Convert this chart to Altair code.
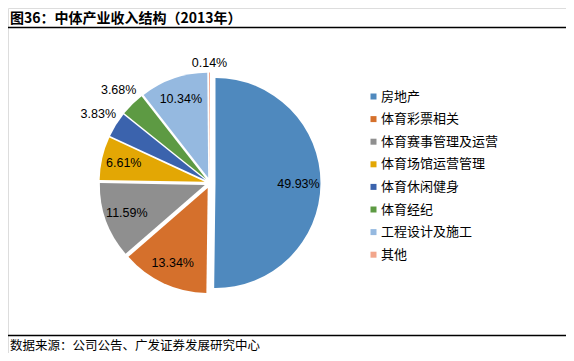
import altair as alt
import pandas as pd

title_text = "图36：中体产业收入结构（2013年）"
source_text = "数据来源：公司公告、广发证券发展研究中心"
categories = ["房地产", "体育彩票相关", "体育赛事管理及运营", "体育场馆运营管理",
              "体育休闲健身", "体育经纪", "工程设计及施工", "其他"]
values = [49.93, 13.34, 11.59, 6.61, 3.83, 3.68, 10.34, 0.14]
colors = ["#4F89BE", "#D5702C", "#8F8F8F", "#E3A704", "#3B63AD",
          "#5D9A43", "#95B9E0", "#F2A68C"]

df = pd.DataFrame({"c": categories, "v": values, "i": list(range(len(values)))})

base = alt.Chart(df).transform_joinaggregate(
    total="sum(v)"
).transform_window(
    cum="sum(v)", sort=[alt.SortField("i")], frame=[None, 0]
).transform_calculate(
    a1="2*PI*datum.cum/datum.total",
    a0="2*PI*(datum.cum-datum.v)/datum.total",
).transform_calculate(
    mid="(datum.a0+datum.a1)/2",
).transform_calculate(
    cx="202+5.5*sin(datum.mid)",
    cy="175-5.5*cos(datum.mid)",
    lr="datum.v<5 ? 107+18*abs(sin(datum.mid))+7*abs(cos(datum.mid)) : 83",
    label="format(datum.v,'.2f')+'%'",
)

arcs = base.mark_arc(radius=105).encode(
    theta=alt.Theta("a0:Q", scale=None),
    theta2="a1:Q",
    x=alt.X("cx:Q", scale=None),
    y=alt.Y("cy:Q", scale=None),
    color=alt.Color("c:N", scale=alt.Scale(domain=categories, range=colors),
                    sort=categories,
                    legend=alt.Legend(title=None, orient="none", legendX=359, legendY=82,
                                      symbolType="square", symbolSize=36,
                                      symbolStrokeWidth=0, labelFont="Noto Sans CJK SC",
                                      labelFontSize=13, labelColor="#000000",
                                      rowPadding=8.6, labelOffset=1, padding=0,
                                      labelLimit=300)),
)

labels = base.mark_text(font="Liberation Sans", fontSize=12.5, color="#000000",
                        baseline="middle", align="center").encode(
    theta=alt.Theta("mid:Q", scale=None),
    radius=alt.Radius("lr:Q", scale=None),
    x=alt.X("cx:Q", scale=None),
    y=alt.Y("cy:Q", scale=None),
    text="label:N",
)

tdf = pd.DataFrame({"t": [title_text]})
sdf = pd.DataFrame({"t": [source_text]})

title = alt.Chart(tdf).mark_text(font="Noto Sans CJK SC", fontSize=14, fontWeight="bold",
                                 align="left", baseline="middle", color="#000000").encode(
    text="t:N", x=alt.value(2), y=alt.value(10.5))

source = alt.Chart(sdf).mark_text(font="Noto Sans CJK SC", fontSize=12.5,
                                  align="left", baseline="middle", color="#000000").encode(
    text="t:N", x=alt.value(2), y=alt.value(338))

line_top = alt.Chart(tdf).mark_rule(color="#000000", strokeWidth=1.6).encode(
    x=alt.value(0), x2=alt.value(558), y=alt.value(19.5))
line_bot = alt.Chart(tdf).mark_rule(color="#000000", strokeWidth=1.6).encode(
    x=alt.value(0), x2=alt.value(558), y=alt.value(327.5))

chart = alt.layer(arcs, labels, title, source, line_top, line_bot).properties(
    width=558, height=345,
    autosize=alt.AutoSizeParams(type="none"),
    padding=0,
).configure_view(stroke=None).configure(background="#FFFFFF")

chart.save("out.html", embed_options={"renderer": "svg", "actions": False})
